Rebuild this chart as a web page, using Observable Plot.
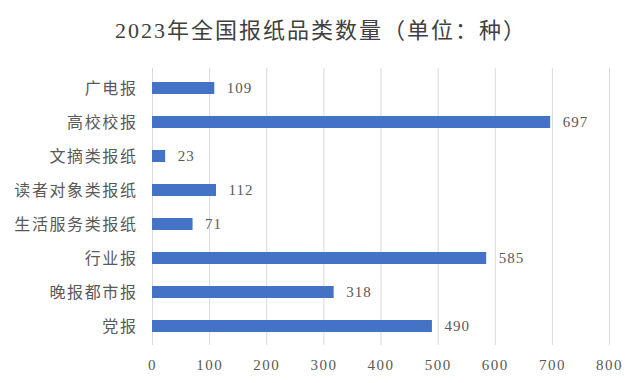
<!DOCTYPE html>
<html>
<head>
<meta charset="utf-8">
<script src="https://cdn.jsdelivr.net/npm/d3@7"></script>
<script src="https://cdn.jsdelivr.net/npm/@observablehq/plot@0.6"></script>
<style>
  html, body { margin: 0; padding: 0; background: #fff; }
  #wrap { width: 642px; height: 383px; position: relative; overflow: hidden; background: #fff; }
  #title { height: 60px; line-height: 62px; text-align: center; font-family: "Liberation Serif", "Noto Sans CJK SC", serif; font-size: 22px; letter-spacing: 2px; color: #404040; }
  svg { display: block; }
  #chart svg g[aria-label="x-axis tick label"] text { letter-spacing: 1.5px; }
  #chart svg g[aria-label="y-axis tick label"] text { letter-spacing: 1.6px; }
  #chart svg g[aria-label="text"] text { letter-spacing: 1px; }
</style>
</head>
<body>
<div id="wrap">
  <div id="title">2023年全国报纸品类数量（单位：种）</div>
  <div id="chart"></div>
</div>
<script>
const categories = ["广电报", "高校校报", "文摘类报纸", "读者对象类报纸", "生活服务类报纸", "行业报", "晚报都市报", "党报"];
const values = [109, 697, 23, 112, 71, 585, 318, 490];
const xTicks = [0, 100, 200, 300, 400, 500, 600, 700, 800];

const data = categories.map((c, i) => ({category: c, value: values[i]}));
const font = '"Liberation Serif", "Noto Sans CJK SC", serif';

const chart = Plot.plot({
  width: 642,
  height: 323,
  marginLeft: 152,
  marginRight: 33,
  marginTop: 8,
  marginBottom: 38,
  style: {fontFamily: font, fontSize: "15px", color: "#595959", background: "#fff"},
  x: {domain: [0, 800], ticks: xTicks, label: null},
  y: {domain: categories, paddingInner: 0.65, paddingOuter: 0.33, label: null},
  marks: [
    Plot.gridX(xTicks, {stroke: "#d9d9d9", strokeOpacity: 1}),
    Plot.axisX({ticks: xTicks, tickSize: 0, tickPadding: 14, fontSize: 15, tickFormat: d => String(d)}),
    Plot.axisY({tickSize: 0, tickPadding: 15, fontSize: 16}),
    Plot.barX(data, {x: "value", y: "category", fill: "#4472c4"}),
    Plot.text(data, {x: "value", y: "category", text: d => String(d.value), dx: 12, textAnchor: "start", fontSize: 15, fill: "#595959"})
  ]
});
document.getElementById("chart").appendChild(chart);
</script>
</body>
</html>
